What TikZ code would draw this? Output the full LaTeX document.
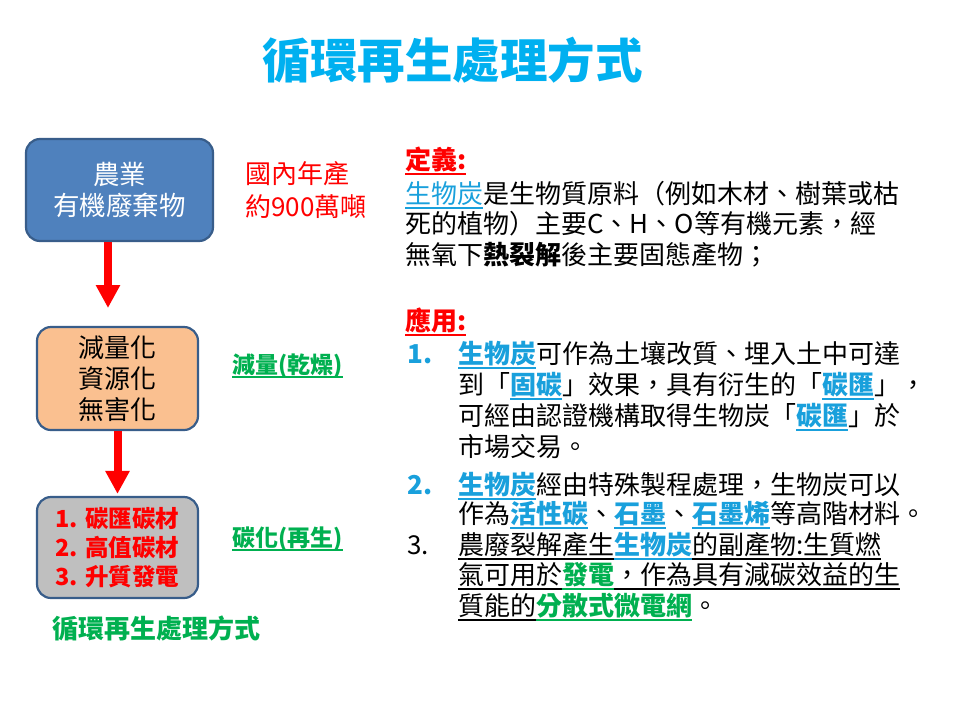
\documentclass[tikz,border=0pt]{standalone}
\usepackage{fontspec}
\setmainfont{Noto Sans CJK TC}
\usetikzlibrary{arrows.meta}
\definecolor{ttlblue}{HTML}{00B0F0}
\definecolor{kblue}{RGB}{25,160,220}
\definecolor{kgreen}{HTML}{00B050}
\definecolor{kred}{HTML}{FF0000}
\definecolor{bxblue}{HTML}{4F81BD}
\definecolor{bxline}{HTML}{385D8A}
\definecolor{bxorange}{HTML}{FAC090}
\definecolor{bxgray}{HTML}{BFBFBF}
\newcommand\ulc[2]{\setbox0=\hbox{{#2}}\rlap{{\color{#1}\rule[-0.22em]{\wd0}{0.08em}}}\box0}
\newcommand\kw[1]{\ulc{kblue}{\color{kblue}\bfseries #1}}
\newcommand\kwr[1]{\ulc{kblue}{\color{kblue}#1}}
\newcommand\gw[1]{\ulc{kgreen}{\color{kgreen}\bfseries #1}}
\begin{document}
\begin{tikzpicture}[x=1pt,y=-1pt,
  txt/.style={anchor=base west, inner sep=0pt, font=\fontsize{26}{30}\selectfont},
  txtb/.style={anchor=base west, inner sep=0pt, font=\fontsize{26}{30}\selectfont\bfseries},
  lbl/.style={anchor=base west, inner sep=0pt, font=\fontsize{23}{28}\selectfont\bfseries, text=kgreen},
  flowbox/.style={draw=bxline, line width=2.2pt, rounded corners=14pt, align=center, inner sep=0pt},
  redarrow/.style={draw=kred, line width=8pt, -{Triangle[width=23pt,length=23pt]}}]
\useasboundingbox[fill=white] (0,0) rectangle (960,720);

% title
\node[anchor=base, inner sep=0pt, font=\fontsize{47.5}{50}\selectfont\bfseries, text=ttlblue] (title) at (452.5,78) {循環再生處理方式};

% flow boxes
\node[flowbox, fill=bxblue, minimum width=187pt, minimum height=102pt, text=white, font=\fontsize{26.5}{31}\selectfont] (b1) at (119.5,190) {農業\\有機廢棄物};
\node[flowbox, fill=bxorange, minimum width=161pt, minimum height=103pt, text=black, font=\fontsize{26}{31.3}\selectfont] (b2) at (117.5,378.5) {減量化\\資源化\\無害化};
\node[flowbox, fill=bxgray, minimum width=161pt, minimum height=101pt, text=kred, font=\fontsize{23.5}{29}\selectfont\bfseries] (b3) at (117.5,547.5) {1. 碳匯碳材\\2. 高值碳材\\3. 升質發電};

% arrows
\coordinate (tip1) at (108,308);
\draw[redarrow] (b1.south -| tip1) -- (tip1);
\draw[redarrow, shorten >=2pt] (b2.south) -- (b3.north);

% side labels
\node[txt, text=kred] (prod1) at (245,183.5) {國內年產};
\node[txt, text=kred] (prod2) at (245,216) {約900萬噸};
\node[lbl] (lab1) at (232,373) {\ulc{kgreen}{減量(乾燥)}};
\node[lbl] (lab2) at (232,546) {\ulc{kgreen}{碳化(再生)}};
\node[txtb, text=kgreen] (cap) at (52,638.5) {循環再生處理方式};

% definition
\node[txtb, text=kred] (defh) at (405,169) {\ulc{kred}{定義:}};
\node[txt] (d1) at (405,203.5) {\kwr{生物炭}是生物質原料（例如木材、樹葉或枯};
\node[txt] (d2) at (405,233.5) {死的植物）主要C、H、O等有機元素，經};
\node[txt] (d3) at (405,264.5) {無氧下{\bfseries 熱裂解}後主要固態產物；};

% applications
\node[txtb, text=kred] (apph) at (405,330) {\ulc{kred}{應用:}};
\node[txtb, text=kblue] (n1) at (407,363) {1.};
\node[txt] (i1a) at (458,363) {\kw{生物炭}可作為土壤改質、埋入土中可達};
\node[txt] (i1b) at (458,394) {到「\kw{固碳}」效果，具有衍生的「\kw{碳匯}」，};
\node[txt] (i1c) at (458,425) {可經由認證機構取得生物炭「\kw{碳匯}」於};
\node[txt] (i1d) at (458,456) {市場交易。};
\node[txtb, text=kblue] (n2) at (407,494) {2.};
\node[txt] (i2a) at (458,494) {\kw{生物炭}經由特殊製程處理，生物炭可以};
\node[txt] (i2b) at (458,523.5) {作為\kw{活性碳}、\kw{石墨}、\kw{石墨烯}等高階材料。};
\node[txt] (n3) at (407,554.5) {3.};
\node[txt] (i3a) at (458,554.5) {\ulc{black}{農廢裂解產生\kw{生物炭}的副產物:生質燃}};
\node[txt] (i3b) at (458,584.5) {\ulc{black}{氣可用於\gw{發電}，作為具有減碳效益的生}};
\node[txt] (i3c) at (458,615) {\ulc{black}{質能的\gw{分散式微電網}}。};
\end{tikzpicture}
\end{document}
